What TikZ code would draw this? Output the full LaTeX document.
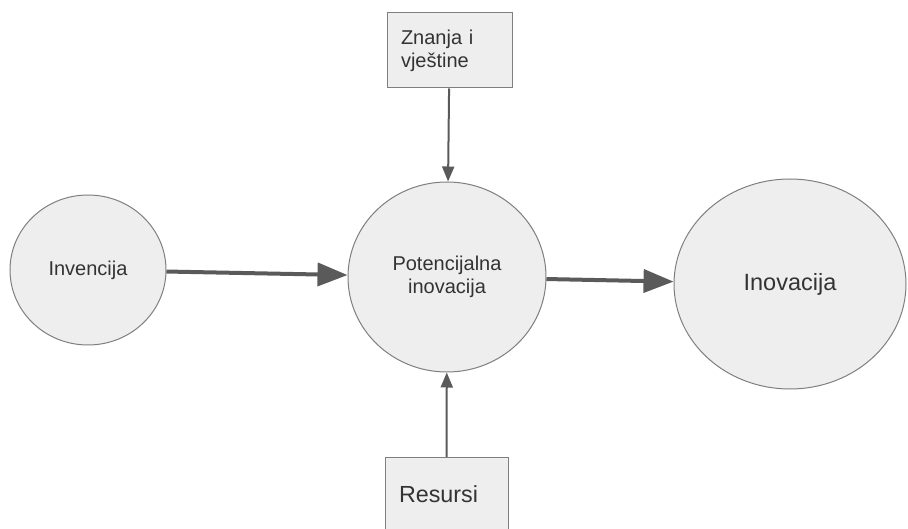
\documentclass[tikz,border=0pt]{standalone}
\usepackage{fontspec}
\setmainfont{Liberation Sans}
\usetikzlibrary{arrows.meta,positioning,shapes.geometric}

\definecolor{fillgray}{HTML}{EEEEEE}
\definecolor{linegray}{HTML}{7F7F7F}
\definecolor{arrowgray}{HTML}{5A5A5A}
\definecolor{textgray}{HTML}{333333}

\begin{document}
\begin{tikzpicture}[x=1pt,y=1pt,
  krug/.style={ellipse,draw=linegray,fill=fillgray,line width=1pt,inner sep=0pt,text=textgray,align=center},
  kutija/.style={rectangle,draw=linegray,fill=fillgray,line width=1pt,text=textgray,align=left,inner xsep=14pt},
  tanka/.style={draw=arrowgray,line width=2pt,-{Triangle[length=15pt,width=12pt]}},
  debela/.style={draw=arrowgray,line width=4pt,-{Triangle[length=30pt,width=23pt]}}]
\clip (0,0) rectangle (908,-529);

\node[krug,minimum width=156pt,minimum height=150pt,font=\fontsize{20}{23}\selectfont] (I) at (88,-270) {Invencija};
\node[krug,minimum width=198pt,minimum height=190pt,font=\fontsize{20}{23}\selectfont] (P) at (447,-277) {Potencijalna\\inovacija};
\node[krug,minimum width=232pt,minimum height=210pt,font=\fontsize{23.5}{27}\selectfont] (N) at (790,-284) {Inovacija};
\node[kutija,text width=97pt,minimum height=75pt,font=\fontsize{20}{23}\selectfont] (Z) at (449.5,-50.5) {Znanja i\\vještine};
\node[kutija,anchor=north,text width=95pt,minimum height=74pt,font=\fontsize{23.3}{27}\selectfont] (R) at (446.5,-457) {Resursi};

\draw[debela] (I) -- (P);
\draw[debela] (P) -- (N);
\draw[tanka] (Z) -- (P);
\draw[tanka] (R) -- (P);

\end{tikzpicture}
\end{document}
